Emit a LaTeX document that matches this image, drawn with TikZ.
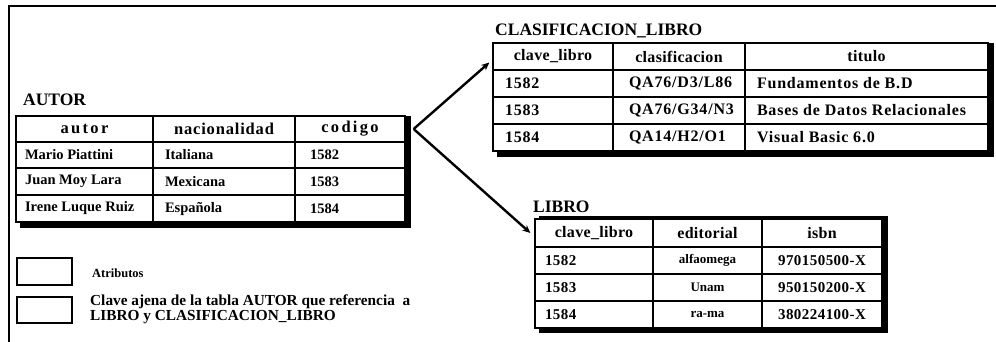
\documentclass[tikz,border=0pt]{standalone}
\usepackage{fontspec}
\setmainfont{Liberation Serif}
\newfontfamily\hdAfont[LetterSpace=14]{Liberation Serif}
\newfontfamily\hdNfont[LetterSpace=5]{Liberation Serif}
\newfontfamily\hdBfont[LetterSpace=2]{Liberation Serif}
\newfontfamily\dtBfont[LetterSpace=5]{Liberation Serif}
\newfontfamily\dtCfont[LetterSpace=3]{Liberation Serif}
\usetikzlibrary{arrows.meta}
\tikzset{
  cell/.style={draw, line width=1.3pt, fill=white, inner sep=0pt},
  aH/.style={font=\hdAfont\bfseries\fontsize{16.5}{19}\selectfont},
  aN/.style={font=\hdNfont\bfseries\fontsize{16.5}{19}\selectfont},
  aD/.style={font=\bfseries\fontsize{14.5}{17}\selectfont},
  bH/.style={font=\hdBfont\bfseries\fontsize{16}{18}\selectfont},
  bD/.style={font=\dtBfont\bfseries\fontsize{16}{18}\selectfont},
  cD/.style={font=\dtCfont\bfseries\fontsize{15}{17}\selectfont},
  eD/.style={font=\bfseries\fontsize{13}{15}\selectfont},
  ttl/.style={font=\bfseries\fontsize{17.5}{20}\selectfont, inner sep=0pt, anchor=west},
  shadow/.style={fill=black},
  legbox/.style={draw, line width=1.2pt, minimum width=55pt, inner sep=0pt},
  legtxt/.style={font=\bfseries\fontsize{15.3}{15.5}\selectfont, inner sep=0pt, anchor=west, align=left},
  fkarrow/.style={line width=2.4pt, -{Stealth[length=8pt,width=7pt]}},
  frame/.style={line width=1.5pt}
}
% left-aligned cell: [style]{name}{x0}{y0}{w}{h}{pad}{text}
\newcommand\cellLeft[8][]{\node[cell,#1,minimum width=#5pt,minimum height=#6pt] (#2) at ({#3+#5/2},{#4+#6/2}) {\makebox[\dimexpr#5pt-#7pt-#7pt\relax][l]{#8}};}
% centred cell: [style]{name}{x0}{y0}{w}{h}{text}
\newcommand\cellMid[7][]{\node[cell,#1,minimum width=#5pt,minimum height=#6pt] (#2) at ({#3+#5/2},{#4+#6/2}) {#7};}
\begin{document}
\begin{tikzpicture}[x=1pt, y=-1pt]
\useasboundingbox (0,0) rectangle (996,342);
% outer frame
\draw[frame] (9,342) -- (9,6) -- (996,6);

% ---------------- AUTOR ----------------
\node[ttl] (tA) at (23,100) {AUTOR};
\fill[shadow] (20,116) rectangle (411,228);
\cellMid[aH]{a11}{16}{116}{137}{26}{autor}
\cellMid[aN]{a12}{153}{116}{142}{26}{nacionalidad}
\cellMid[aH]{a13}{295}{116}{110}{26}{codigo}
\cellLeft[aD]{a21}{16}{142}{137}{26}{9}{Mario Piattini}
\cellLeft[aD]{a22}{153}{142}{142}{26}{12}{Italiana}
\cellLeft[aD]{a23}{295}{142}{110}{26}{15}{1582}
\cellLeft[aD]{a31}{16}{168}{137}{27}{9}{Juan Moy Lara}
\cellLeft[aD]{a32}{153}{168}{142}{27}{12}{Mexicana}
\cellLeft[aD]{a33}{295}{168}{110}{27}{15}{1583}
\cellLeft[aD]{a41}{16}{195}{137}{27}{9}{Irene Luque Ruiz}
\cellLeft[aD]{a42}{153}{195}{142}{27}{12}{Española}
\cellLeft[aD]{a43}{295}{195}{110}{27}{15}{1584}

% ---------------- CLASIFICACION_LIBRO ----------------
\node[ttl] (tC) at (495,31) {CLASIFICACION\_LIBRO};
\fill[shadow] (497,43) rectangle (994,157);
\cellMid[bH]{c11}{493}{43}{120}{27}{clave\_libro}
\cellMid[bH]{c12}{613}{43}{132}{27}{clasificacion}
\cellMid[bH]{c13}{745}{43}{243}{27}{titulo}
\cellLeft[bD]{c21}{493}{70}{120}{27}{12}{1582}
\cellLeft[bD]{c22}{613}{70}{132}{27}{16}{QA76/D3/L86}
\cellLeft[bD]{c23}{745}{70}{243}{27}{12}{Fundamentos de B.D}
\cellLeft[bD]{c31}{493}{97}{120}{27}{12}{1583}
\cellLeft[bD]{c32}{613}{97}{132}{27}{16}{QA76/G34/N3}
\cellLeft[bD]{c33}{745}{97}{243}{27}{12}{Bases de Datos Relacionales}
\cellLeft[bD]{c41}{493}{124}{120}{27}{12}{1584}
\cellLeft[bD]{c42}{613}{124}{132}{27}{16}{QA14/H2/O1}
\cellLeft[bD]{c43}{745}{124}{243}{27}{12}{Visual Basic 6.0}

% ---------------- LIBRO ----------------
\node[ttl] (tL) at (533,207) {LIBRO};
\fill[shadow] (539,216) rectangle (888,333);
\cellMid[bH]{l11}{535}{219}{118}{28}{clave\_libro}
\cellMid[bH]{l12}{653}{219}{109}{28}{editorial}
\cellMid[bH]{l13}{762}{219}{120}{28}{isbn}
\cellLeft[cD]{l21}{535}{247}{118}{27}{10}{1582}
\cellMid[eD]{l22}{653}{247}{109}{27}{alfaomega}
\cellMid[cD]{l23}{762}{247}{120}{27}{970150500-X}
\cellLeft[cD]{l31}{535}{274}{118}{27}{10}{1583}
\cellMid[eD]{l32}{653}{274}{109}{27}{Unam}
\cellMid[cD]{l33}{762}{274}{120}{27}{950150200-X}
\cellLeft[cD]{l41}{535}{301}{118}{27}{10}{1584}
\cellMid[eD]{l42}{653}{301}{109}{27}{ra-ma}
\cellMid[cD]{l43}{762}{301}{120}{27}{380224100-X}

% ---------------- connectors ----------------
\coordinate (fk) at ([xshift=8pt]a13.east);
\coordinate (tipC) at ([xshift=-3pt,yshift=-6pt]c11.west);
\coordinate (tipL) at ([xshift=-4pt]l11.west);
\draw[fkarrow] (fk) -- (tipC);
\draw[fkarrow] (fk) -- (tipL);

% ---------------- legend ----------------
\node[legbox, minimum height=27pt] (lg1) at (44.5,271.5) {};
\node[legbox, minimum height=26pt] (lg2) at (44.5,310) {};
\node[legtxt, font=\bfseries\fontsize{12.5}{15}\selectfont] (lt1) at (92,273) {Atributos};
\node[legtxt] (lt2) at (90,309.5) {Clave ajena de la tabla AUTOR que referencia~~a\\LIBRO y CLASIFICACION\_LIBRO};
\end{tikzpicture}
\end{document}
